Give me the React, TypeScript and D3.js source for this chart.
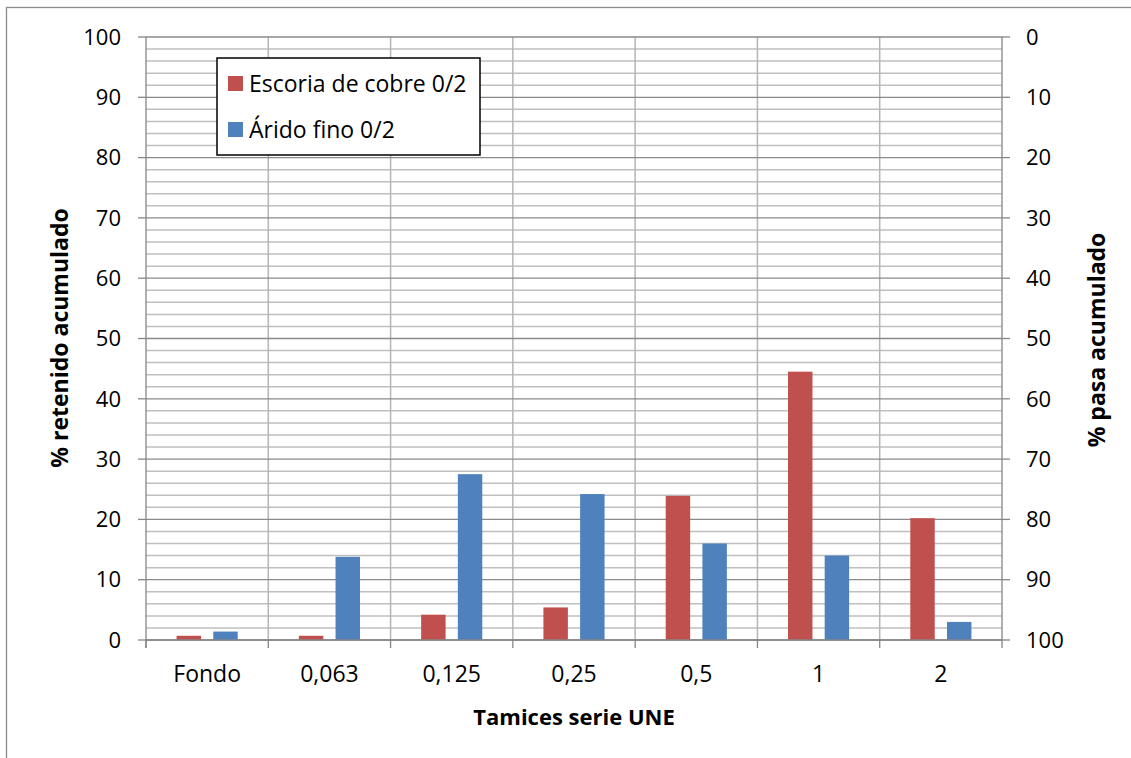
import React from "react";
import * as d3 from "d3";

const categories = ["Fondo", "0,063", "0,125", "0,25", "0,5", "1", "2"];
const seriesNames = ["Escoria de cobre 0/2", "Árido fino 0/2"];
const escoria = [0.7, 0.7, 4.2, 5.4, 23.9, 44.5, 20.2];
const arido = [1.4, 13.8, 27.5, 24.2, 16.0, 14.0, 3.0];
const leftTicks = [0, 10, 20, 30, 40, 50, 60, 70, 80, 90, 100];
const colors = ["#C0504D", "#4F81BD"];

const W = 1131;
const H = 758;
const m = { left: 146, right: 1002, top: 37, bottom: 640 };
const FONT = "'Open Sans', 'Liberation Sans', sans-serif";

export default function App() {
  const x = d3
    .scaleBand<string>()
    .domain(categories)
    .range([m.left, m.right])
    .paddingInner(0)
    .paddingOuter(0);
  const y = d3.scaleLinear().domain([0, 100]).range([m.bottom, m.top]);
  const yRight = d3.scaleLinear().domain([100, 0]).range([m.bottom, m.top]);
  const bw = x.bandwidth();
  const barW = bw * 0.2;
  const barGap = barW * 0.5;
  const offset = (bw - 2 * barW - barGap) / 2;

  const minorTicks = d3.range(0, 101, 2).filter((v) => v % 10 !== 0);
  const series = [escoria, arido];

  return (
    <svg width={W} height={H} style={{ display: "block", position: "absolute", left: 0, top: 0 }}>
      <rect x={0} y={0} width={W} height={H} fill="#fff" />
      <rect x={6.5} y={7.5} width={1140} height={800} fill="none" stroke="#8c8c8c" strokeWidth={1.3} />

      {/* minor gridlines */}
      {minorTicks.map((v) => (
        <line key={"mi" + v} x1={m.left} x2={m.right} y1={y(v)} y2={y(v)} stroke="#bfbfbf" strokeWidth={1.5} />
      ))}
      {/* category separators */}
      {categories.map((c, i) =>
        i === 0 ? null : (
          <line key={"vg" + c} x1={x(c)!} x2={x(c)!} y1={m.top} y2={m.bottom} stroke="#b5b5b5" strokeWidth={1.5} />
        )
      )}
      {/* major gridlines */}
      {leftTicks.map((v) => (
        <line key={"ma" + v} x1={m.left} x2={m.right} y1={y(v)} y2={y(v)} stroke="#8a8a8a" strokeWidth={1.3} />
      ))}

      {/* bars */}
      {series.map((vals, s) =>
        vals.map((v, i) => {
          const bx = x(categories[i])! + offset + s * (barW + barGap);
          return (
            <rect
              key={"b" + s + "-" + i}
              x={bx}
              y={y(v)}
              width={barW}
              height={y(0) - y(v)}
              fill={colors[s]}
            />
          );
        })
      )}

      {/* axes */}
      <line x1={m.left} x2={m.left} y1={m.top} y2={m.bottom + 8} stroke="#868686" strokeWidth={1.3} />
      <line x1={m.right} x2={m.right} y1={m.top} y2={m.bottom + 8} stroke="#868686" strokeWidth={1.3} />
      <line x1={m.left} x2={m.right} y1={m.bottom} y2={m.bottom} stroke="#868686" strokeWidth={1.5} />
      {leftTicks.map((v) => (
        <g key={"lt" + v}>
          <line x1={m.left - 8} x2={m.left} y1={y(v)} y2={y(v)} stroke="#868686" strokeWidth={1.3} />
          <text x={121} y={y(v)} dy="0.35em" textAnchor="end" fontFamily={FONT} fontSize={22} fill="#000">
            {v}
          </text>
        </g>
      ))}
      {leftTicks.map((v) => (
        <g key={"rt" + v}>
          <line x1={m.right} x2={m.right + 8} y1={yRight(v)} y2={yRight(v)} stroke="#868686" strokeWidth={1.3} />
          <text x={1026} y={yRight(v)} dy="0.35em" textAnchor="start" fontFamily={FONT} fontSize={22} fill="#000">
            {v}
          </text>
        </g>
      ))}
      {categories.map((c) => (
        <g key={"ct" + c}>
          <line x1={x(c)!} x2={x(c)!} y1={m.bottom} y2={m.bottom + 8} stroke="#868686" strokeWidth={1.3} />
          <text x={x(c)! + bw / 2} y={674} dy="0.35em" textAnchor="middle" fontFamily={FONT} fontSize={23} fill="#000">
            {c}
          </text>
        </g>
      ))}

      {/* axis titles */}
      <text x={574} y={717} dy="0.35em" textAnchor="middle" fontFamily={FONT} fontSize={22} fontWeight="bold" fill="#000">
        Tamices serie UNE
      </text>
      <text
        transform={`translate(60,338) rotate(-90)`}
        dy="0.35em"
        textAnchor="middle"
        fontFamily={FONT}
        fontSize={23}
        fontWeight="bold"
        fill="#000"
      >
        % retenido acumulado
      </text>
      <text
        transform={`translate(1097,340) rotate(-90)`}
        dy="0.35em"
        textAnchor="middle"
        fontFamily={FONT}
        fontSize={23}
        fontWeight="bold"
        fill="#000"
      >
        % pasa acumulado
      </text>

      {/* legend */}
      <rect x={217} y={58} width={263} height={97} fill="#fff" stroke="#000" strokeWidth={1.5} />
      {seriesNames.map((n, i) => (
        <g key={"lg" + i}>
          <rect x={228} y={76 + i * 46} width={15} height={15} fill={colors[i]} />
          <text x={249} y={84 + i * 46} dy="0.35em" fontFamily={FONT} fontSize={23} fill="#000">
            {n}
          </text>
        </g>
      ))}
    </svg>
  );
}
